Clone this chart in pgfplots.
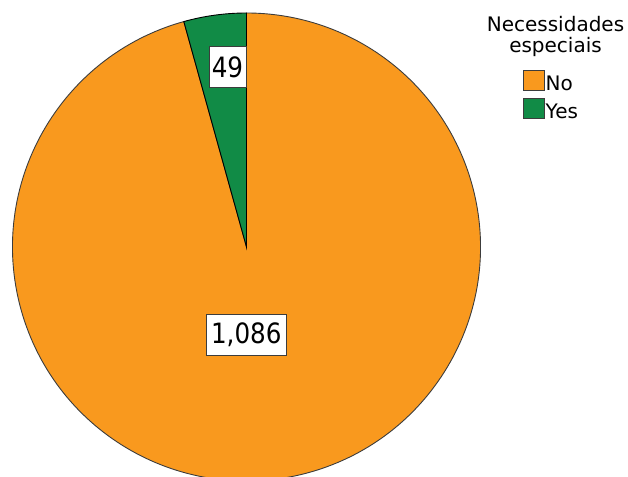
\documentclass[border=0pt]{standalone}
\usepackage{pgfplots}
\pgfplotsset{compat=1.18}
\usepackage{fontspec}
\setmainfont{DejaVu Sans}
\newfontfamily\labelfont{DejaVu Sans}[FakeStretch=0.88]
\definecolor{pieorange}{RGB}{249,153,30}
\definecolor{piegreen}{RGB}{17,139,70}
\definecolor{edge}{RGB}{60,60,60}
% data
\def\vNo{1086}
\def\vYes{49}
\begin{document}
\begin{tikzpicture}
\clip (0,0) rectangle (628bp,477bp);
\begin{axis}[
  at={(0,0)}, anchor=south west,
  scale only axis, width=628bp, height=477bp,
  xmin=0, xmax=628, ymin=0, ymax=477,
  hide axis, clip=true]
\pgfmathsetmacro{\tot}{\vNo+\vYes}
\pgfmathsetmacro{\aYes}{90+360*(\vYes/\tot)}
\def\cx{246.5}
\def\cy{230}
\def\R{234bp}
% No slice
\draw[fill=pieorange, draw=edge, line width=0.9pt]
  (axis cs:\cx,\cy) -- ++(\aYes:\R) arc[start angle=\aYes, end angle=450, radius=\R] -- cycle;
% Yes slice
\draw[fill=piegreen, draw=black, line width=0.9pt]
  (axis cs:\cx,\cy) -- ++(90:\R) arc[start angle=90, end angle=\aYes, radius=\R] -- cycle;
% value labels
\node[draw=edge, line width=0.6pt, fill=white, inner sep=0pt, minimum width=37bp, minimum height=40.5bp,
  font=\labelfont\fontsize{28bp}{30bp}\selectfont] at (axis cs:227.5,410) {49};
\node[draw=edge, line width=0.6pt, fill=white, inner sep=0pt, minimum width=79.3bp, minimum height=40.7bp,
  font=\labelfont\fontsize{28bp}{30bp}\selectfont] at (axis cs:246.3,142.3) {1,086};
% legend
\node[anchor=base, inner sep=0pt, font=\fontsize{20bp}{22bp}\selectfont] at (axis cs:555.5,445) {Necessidades};
\node[anchor=base, inner sep=0pt, font=\fontsize{20bp}{22bp}\selectfont] at (axis cs:555.5,424) {especiais};
\draw[fill=pieorange, draw=edge, line width=0.7pt] (axis cs:523,386.3) rectangle (axis cs:544,406.3);
\draw[fill=piegreen, draw=edge, line width=0.7pt] (axis cs:523,359) rectangle (axis cs:544,379);
\node[anchor=base west, inner sep=0pt, font=\fontsize{20bp}{22bp}\selectfont] at (axis cs:545.5,386.3) {No};
\node[anchor=base west, inner sep=0pt, font=\fontsize{20bp}{22bp}\selectfont] at (axis cs:545.5,358) {Yes};
\end{axis}
\end{tikzpicture}
\end{document}
